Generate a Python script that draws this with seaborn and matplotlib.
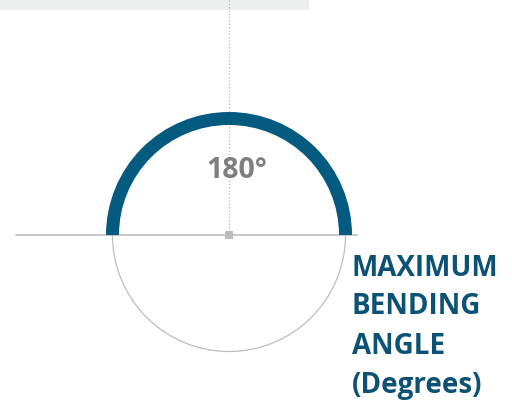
import matplotlib
matplotlib.use("Agg")
import matplotlib.pyplot as plt
from matplotlib.patches import Wedge, Arc, Rectangle
import seaborn as sns

# Data
max_angle = [180]            # maximum bending angle in degrees
value_label = ["180°"]
title_lines = ["MAXIMUM", "BENDING", "ANGLE", "(Degrees)"]

sns.set_theme(style="white")
plt.rcParams['font.family'] = ['Open Sans', 'DejaVu Sans']

W, H = 512, 403
fig = plt.figure(figsize=(W / 100, H / 100), dpi=100)
ax = fig.add_axes([0, 0, 1, 1])
ax.set_xlim(0, W)
ax.set_ylim(0, H)
ax.set_aspect('equal')
ax.axis('off')

def py(y):
    return H - y

cx, cy = 229, py(235)
r_outer, thick = 123, 13
r_mid = r_outer - thick / 2

# top light band
ax.add_patch(Rectangle((0, py(10)), 309, 10, color="#ECEFEE", lw=0, zorder=0))
# vertical dotted guide
ax.plot([cx, cx], [py(0), cy], color="#AAAAAA", lw=0.8, ls=(0, (1, 2)), zorder=1)
# horizontal base line
ax.plot([16, 357], [cy, cy], color="#C8C8C8", lw=1.4, zorder=1)
# lower thin semicircle
ax.add_patch(Arc((cx, cy), 2 * r_mid, 2 * r_mid, theta1=180, theta2=360,
                 color="#BDBDBD", lw=0.9, zorder=1))
# thick arc for the angle
ang = max_angle[0]
ax.add_patch(Wedge((cx, cy), r_outer, 0, ang, width=thick,
                   color="#055A80", lw=0, zorder=2))
# center square
ax.add_patch(Rectangle((cx - 4, cy - 4), 8, 8, color="#BBBBBB", lw=0, zorder=3))

ax.text(237, py(170), value_label[0], ha="center", va="center",
        fontsize=20.5, fontweight="bold", color="#7F7F7F", zorder=4)

for i, line in enumerate(title_lines):
    ax.text(352, py(268 + 39 * i), line, ha="left", va="center",
            fontsize=20, fontweight="bold", color="#0B5275")

fig.savefig("out.png", dpi=100)
